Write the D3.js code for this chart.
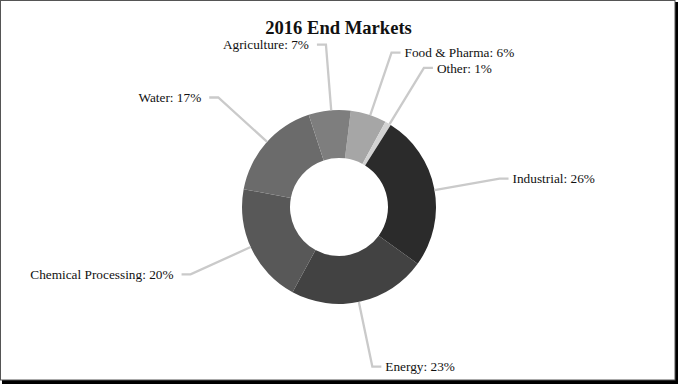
<!DOCTYPE html>
<html>
<head>
<meta charset="utf-8">
<script src="https://cdn.jsdelivr.net/npm/d3@7"></script>
<style>
  html, body { margin: 0; padding: 0; background: #fff; }
  svg { display: block; }
  text { font-family: "Liberation Serif", "Times New Roman", serif; fill: #111; }
</style>
</head>
<body>
<script>
// ---- Data ----
const title = "2016 End Markets";
const categories = ["Food & Pharma", "Other", "Industrial", "Energy", "Chemical Processing", "Water", "Agriculture"];
const values = [6, 1, 26, 23, 20, 17, 7];
const colors = ["#a6a6a6", "#d2d2d2", "#2b2b2b", "#424242", "#585858", "#6b6b6b", "#7e7e7e"];

// ---- Layout ----
const W = 678, H = 384;
const cx = 339, cy = 207;
const outerR = 97, innerR = 49;
const startDeg = 7;
const elbowR = 163;
const tailLen = 9;

const svg = d3.select("body").append("svg").attr("width", W).attr("height", H);

// frame with shadow
svg.append("rect").attr("x", 2).attr("y", 2).attr("width", W - 2).attr("height", H - 2).attr("fill", "#000");
svg.append("rect").attr("x", 0.5).attr("y", 0.5).attr("width", W - 3.5).attr("height", H - 4.5)
  .attr("fill", "#fff").attr("stroke", "#555").attr("stroke-width", 1);

svg.append("text").attr("x", 338.5).attr("y", 34).attr("text-anchor", "middle")
  .style("font-size", "18.6px").style("font-weight", "bold").text(title);

const data = categories.map((c, i) => ({ name: c, value: values[i], color: colors[i] }));
const start = startDeg * Math.PI / 180;
const pie = d3.pie().value(d => d.value).sort(null).startAngle(start).endAngle(start + 2 * Math.PI);
const arcs = pie(data);
const arc = d3.arc().innerRadius(innerR).outerRadius(outerR);

const g = svg.append("g").attr("transform", `translate(${cx},${cy})`);
g.selectAll("path.slice").data(arcs).join("path").attr("class", "slice")
  .attr("d", arc).attr("fill", d => d.data.color);

const polar = (a, r) => [Math.sin(a) * r, -Math.cos(a) * r];
const nudge = 1 * Math.PI / 180;

arcs.forEach(d => {
  const a = (d.startAngle + d.endAngle) / 2 + nudge;
  const p0 = polar(a, outerR);
  const p1 = polar(a, elbowR);
  const right = Math.sin(a) >= 0;
  const p2 = [p1[0] + (right ? tailLen : -tailLen), p1[1]];
  g.append("path")
    .attr("d", d3.line()([p0, p1, p2]))
    .attr("fill", "none").attr("stroke", "#cacaca").attr("stroke-width", 2.3)
    .attr("stroke-linejoin", "miter");
  g.append("text")
    .attr("x", p2[0] + (right ? 4 : -8))
    .attr("y", p2[1]).attr("dy", "0.35em")
    .attr("text-anchor", right ? "start" : "end")
    .style("font-size", "13.3px")
    .text(`${d.data.name}: ${d.data.value}%`);
});
</script>
</body>
</html>
